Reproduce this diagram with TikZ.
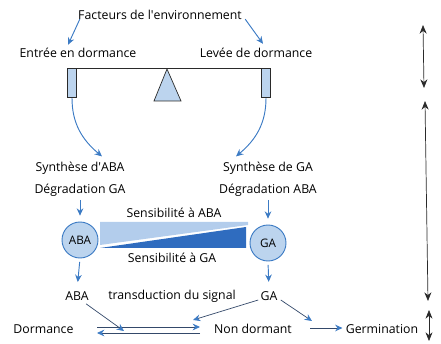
\documentclass[tikz,border=0pt]{standalone}
\usepackage{fontspec}
\setmainfont{Open Sans}
\usetikzlibrary{arrows.meta,positioning,calc}
\definecolor{hblue}{HTML}{3C7BC4}
\definecolor{hpale}{HTML}{BCD4EE}
\definecolor{hwash}{HTML}{B3CDEC}
\definecolor{hdeep}{HTML}{2F6CBF}
\definecolor{ink}{HTML}{2A2A2A}
\definecolor{wire}{HTML}{34496A}
\tikzset{
  lbl/.style={inner sep=1pt,font=\fontsize{10.5}{12}\selectfont},
  arr/.style={-{Stealth[length=2.2mm,width=2mm]},thick,draw=hblue},
  flow/.style={-{Stealth[length=2.2mm,width=2mm,color=hblue]},semithick,draw=wire},
  hormone/.style={circle,draw=hblue,thick,fill=hpale,minimum size=10.8mm,inner sep=0pt,
    font=\fontsize{10}{12}\selectfont},
  pan/.style={draw=ink,semithick,fill=hpale,minimum width=2.8mm,minimum height=8.8mm,inner sep=0pt},
  span/.style={{Stealth[length=2.6mm,width=2.1mm]}-{Stealth[length=2.6mm,width=2.1mm]},draw=ink,semithick}
}

\begin{document}
\begin{tikzpicture}[x=0.03cm,y=-0.03cm]
 \useasboundingbox (0,0) rectangle (441,344);
 % balance
 \node[lbl] (env) at (160,15) {Facteurs de l\textquotesingle environnement};
 \node[lbl] (entree) at (78,53) {Entrée en dormance};
 \node[lbl] (levee) at (256,53) {Levée de dormance};
 \draw[arr] ($(env.south west)+(3,-2)$) -- ($(entree.north)+(-10,-2)$);
 \draw[arr] ($(env.south east)+(2,-2)$) -- ($(levee.north)+(7,-3)$);
 \node[pan] (lpan) at (72,83) {};
 \node[pan] (rpan) at (266,83) {};
 \draw[ink,semithick] (lpan.north east) -- (rpan.north west);
 \coordinate (pivot) at (167,69);
 \draw[ink,semithick,fill=hpale] (pivot) -- (154,101) -- (181,101) -- cycle;
 % hormones
 \node[lbl] (synA) at (80,168) {Synthèse d\textquotesingle ABA};
 \node[lbl] (degG) at (80,190) {Dégradation GA};
 \node[lbl] (synG) at (268,168) {Synthèse de GA};
 \node[lbl] (degA) at (268,190) {Dégradation ABA};
 \draw[arr] (lpan.south) to[out=-90,in=140] ($(synA.north)+(22,-4)$);
 \draw[arr] (rpan.south) to[out=-90,in=40] ($(synG.north)+(-32,-4)$);
 \node[hormone] (aba) at (80,240) {ABA};
 \node[hormone] (ga) at (268,243) {GA};
 \draw[arr,shorten <=2pt,shorten >=5pt] (degG.south) -- (aba.north);
 \draw[arr,shorten <=2pt,shorten >=5pt] (degA.south) -- (ga.north);
 \fill[hwash] (100,222) -- (248,222) -- (248,225) -- (100,245) -- cycle;
 \fill[hdeep] (100,248) -- (246,227) -- (246,248) -- cycle;
 \node[lbl] (sensA) at (174,213) {Sensibilité à ABA};
 \node[lbl] (sensG) at (172,258) {Sensibilité à GA};
 % signal
 \node[lbl] (abaS) at (77,296) {ABA};
 \node[lbl] (trans) at (172,296) {transduction du signal};
 \node[lbl] (gaS) at (269,296) {GA};
 \draw[arr,shorten <=3pt,shorten >=7pt] (aba.south) -- (abaS.north);
 \draw[arr,shorten <=3pt,shorten >=7pt] (ga.south) -- (gaS.north);
 \node[lbl,anchor=west] (dorm) at (12,329) {Dormance};
 \node[lbl] (nond) at (253,329) {Non dormant};
 \node[lbl] (germ) at (382,329) {Germination};
 \coordinate (fwdA) at (97,327);
 \coordinate (fwdB) at (200,327);
 \coordinate (revA) at (200,333);
 \coordinate (revB) at (97,333);
 \draw[flow] (fwdA) -- (fwdB);
 \draw[flow] (revA) -- (revB);
 \draw[flow] ($(abaS.south east)+(-4,2)$) -- (124,331);
 \draw[flow] ($(gaS.west)+(-1,4)$) -- (193,320);
 \draw[flow] ($(gaS.east)+(2,4)$) -- (312,321);
 \draw[flow] (310,328) -- ($(germ.west)+(-2,-1)$);
 % stages
 \coordinate (s1) at (423,25);
 \coordinate (s2) at (424,88);
 \coordinate (s3) at (425,101);
 \coordinate (s4) at (428,301);
 \coordinate (s5) at (429,310);
 \coordinate (s6) at (429,341);
 \draw[span] (s1) -- (s2);
 \draw[span] (s3) -- (s4);
 \draw[span] (s5) -- (s6);
\end{tikzpicture}
\end{document}
